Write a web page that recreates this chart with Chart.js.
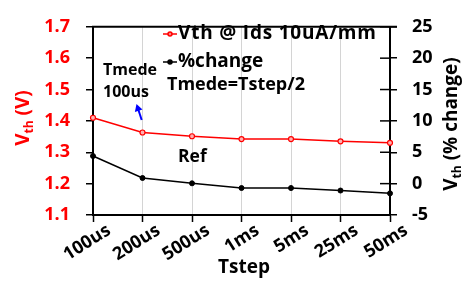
<!DOCTYPE html>
<html><head><meta charset="utf-8">
<script src="https://cdn.jsdelivr.net/npm/chart.js@4/dist/chart.umd.min.js"></script>
<style>html,body{margin:0;padding:0;background:#fff}#c{display:block}</style>
</head><body>
<canvas id="c" width="470" height="283"></canvas>
<script>
// ---- data ----
const categories = ['100us', '200us', '500us', '1ms', '5ms', '25ms', '50ms'];
const vthValues = [1.410, 1.363, 1.351, 1.342, 1.342, 1.335, 1.330];
const changeValues = [4.4, 0.9, 0.05, -0.7, -0.7, -1.1, -1.55];
const leftAxisRange = [1.1, 1.7, 0.1];
const rightAxisRange = [-5, 25, 5];
const seriesNames = ['Vth @ Ids 10uA/mm', '%change'];

const FONT = '"Open Sans"';
const RED = '#ff0000';

const decorPlugin = {
  id: 'decor',
  afterDraw(chart) {
    const ctx = chart.ctx;
    const a = chart.chartArea;
    const xs = chart.scales.x, y1 = chart.scales.y1;
    ctx.save();
    // top border
    ctx.strokeStyle = '#000'; ctx.lineWidth = 2;
    ctx.beginPath(); ctx.moveTo(a.left - 1, a.top); ctx.lineTo(a.right + 7, a.top); ctx.stroke();
    // inner part of right axis ticks
    ctx.lineWidth = 1.5;
    y1.ticks.forEach(t => {
      const py = y1.getPixelForValue(t.value);
      ctx.beginPath(); ctx.moveTo(a.right - 10, py); ctx.lineTo(a.right, py); ctx.stroke();
    });
    // x tick labels (rotated)
    ctx.fillStyle = '#000';
    ctx.font = 'bold 18px ' + FONT;
    ctx.textAlign = 'right'; ctx.textBaseline = 'middle';
    categories.forEach((c, i) => {
      const px = xs.getPixelForValue(i);
      ctx.save();
      ctx.translate(px + 16, a.bottom + 14);
      ctx.rotate(-32 * Math.PI / 180);
      ctx.fillText(c, 0, 0);
      ctx.restore();
    });
    // x title
    ctx.textAlign = 'center';
    ctx.font = 'bold 19px ' + FONT;
    ctx.fillText('Tstep', 244, 268);

    // rotated axis titles with subscript
    function vertTitle(cx, cy, color, main, sub, rest) {
      ctx.save();
      ctx.translate(cx, cy);
      ctx.rotate(-Math.PI / 2);
      ctx.fillStyle = color;
      ctx.textAlign = 'left'; ctx.textBaseline = 'middle';
      const fMain = 'bold 19px ' + FONT, fSub = 'bold 12px ' + FONT;
      ctx.font = fMain; const w1 = ctx.measureText(main).width; const w3 = ctx.measureText(rest).width;
      ctx.font = fSub; const w2 = ctx.measureText(sub).width;
      let x = -(w1 + w2 + w3) / 2;
      ctx.font = fMain; ctx.fillText(main, x, 0); x += w1;
      ctx.font = fSub; ctx.fillText(sub, x, 6); x += w2;
      ctx.font = fMain; ctx.fillText(rest, x, 0);
      ctx.restore();
    }
    vertTitle(24, 118, RED, 'V', 'th', ' (V)');
    vertTitle(452, 124, '#000', 'V', 'th', ' (% change)');

    // legend
    function legendItem(y, color, fill, text, spacing) {
      ctx.strokeStyle = color; ctx.lineWidth = 1.5;
      ctx.beginPath(); ctx.moveTo(163, y); ctx.lineTo(177, y); ctx.stroke();
      ctx.beginPath(); ctx.arc(170, y, 2, 0, Math.PI * 2);
      ctx.fillStyle = fill; ctx.fill(); ctx.stroke();
      ctx.fillStyle = '#000';
      ctx.font = 'bold 19px ' + FONT; ctx.textAlign = 'left'; ctx.textBaseline = 'middle';
      ctx.letterSpacing = spacing + 'px';
      ctx.fillText(text, 178, y);
      ctx.letterSpacing = '0px';
    }
    legendItem(34, RED, '#ff8080', seriesNames[0], 0.8);
    legendItem(62, '#000', '#000', seriesNames[1], 0);

    // annotations
    ctx.fillStyle = '#000'; ctx.textAlign = 'left'; ctx.textBaseline = 'middle';
    ctx.font = 'bold 18px ' + FONT;
    ctx.fillText('Tmede=Tstep/2', 167, 85);
    ctx.font = 'bold 16px ' + FONT;
    ctx.fillText('Tmede', 103, 70);
    ctx.fillText('100us', 103, 92);
    ctx.font = 'bold 17.5px ' + FONT;
    ctx.fillText('Ref', 178, 157);

    // blue arrow
    ctx.strokeStyle = '#0000ff'; ctx.fillStyle = '#0000ff'; ctx.lineWidth = 2;
    const tx = 141.7, ty = 120, hx = 136.5, hy = 104;
    const ang = Math.atan2(hy - ty, hx - tx);
    ctx.beginPath(); ctx.moveTo(tx, ty); ctx.lineTo(hx - 4 * Math.cos(ang), hy - 4 * Math.sin(ang)); ctx.stroke();
    ctx.beginPath();
    ctx.moveTo(hx, hy);
    ctx.lineTo(hx - 7 * Math.cos(ang) + 4 * Math.sin(ang), hy - 7 * Math.sin(ang) - 4 * Math.cos(ang));
    ctx.lineTo(hx - 7 * Math.cos(ang) - 4 * Math.sin(ang), hy - 7 * Math.sin(ang) + 4 * Math.cos(ang));
    ctx.closePath(); ctx.fill();
    ctx.restore();
  }
};

new Chart(document.getElementById('c'), {
  type: 'line',
  data: {
    labels: categories,
    datasets: [
      {
        label: seriesNames[0], data: vthValues, yAxisID: 'y',
        borderColor: RED, borderWidth: 1.5, backgroundColor: '#ff8080',
        pointRadius: 2.5, pointBorderColor: RED, pointBackgroundColor: '#ffb0b0', pointBorderWidth: 1.2,
        tension: 0
      },
      {
        label: seriesNames[1], data: changeValues, yAxisID: 'y1',
        borderColor: '#000', borderWidth: 1.5, backgroundColor: '#000',
        pointRadius: 2.5, pointBorderColor: '#000', pointBackgroundColor: '#000', pointBorderWidth: 1,
        tension: 0
      }
    ]
  },
  options: {
    responsive: false, animation: false, devicePixelRatio: 1,
    layout: { padding: { top: 15, left: 0, right: 0, bottom: 0 } },
    plugins: { legend: { display: false }, tooltip: { enabled: false } },
    scales: {
      x: {
        type: 'category', offset: false,
        grid: { color: '#d4d4d4', lineWidth: 1, tickColor: '#000', tickLength: 7, tickWidth: 1.5, drawOnChartArea: true },
        border: { color: '#000', width: 2 },
        ticks: { display: false },
        afterFit(s) { s.height = 68; }
      },
      y: {
        position: 'left', min: leftAxisRange[0], max: leftAxisRange[1],
        grid: { drawOnChartArea: false, color: '#000', tickLength: 7, lineWidth: 1.5 },
        border: { color: '#000', width: 2 },
        ticks: { stepSize: leftAxisRange[2], color: RED, padding: 16,
          font: { family: FONT, size: 18, weight: 'bold' },
          callback: v => Number(v).toFixed(1) },
        afterFit(s) { s.width = 93; }
      },
      y1: {
        position: 'right', min: rightAxisRange[0], max: rightAxisRange[1],
        grid: { drawOnChartArea: false, color: '#000', tickLength: 7, lineWidth: 1.5 },
        border: { color: '#000', width: 2 },
        ticks: { stepSize: rightAxisRange[2], color: '#000', padding: 15,
          font: { family: FONT, size: 18, weight: 'bold' } },
        afterFit(s) { s.width = 80; }
      }
    }
  },
  plugins: [decorPlugin]
});
</script>
</body></html>
